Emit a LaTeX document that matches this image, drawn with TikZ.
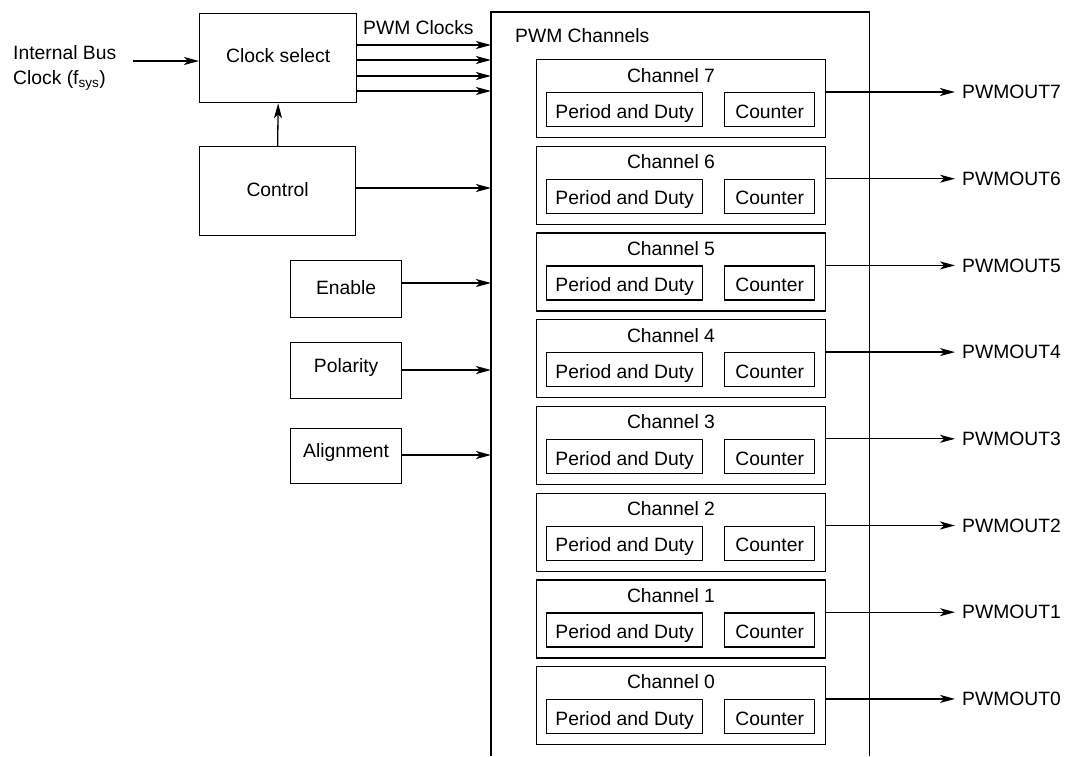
\documentclass[tikz,border=0pt]{standalone}
\usepackage{fontspec}
\setmainfont{Liberation Sans}
\usetikzlibrary{arrows.meta,calc}
\begin{document}
\begin{tikzpicture}[x=1pt,y=-1pt,
  every node/.style={font=\fontsize{19.3}{25}\selectfont, inner sep=0pt},
  box/.style={draw, line width=1.3pt, anchor=north west, text height=13.8pt},
  ln/.style={line width=1.3pt},
  arr/.style={line width=1.3pt, -{Stealth[length=15pt,width=8pt,inset=4pt]}}]
\useasboundingbox (0,0) rectangle (1070,756);

% left side blocks
\node[box, text depth=5pt, minimum width=157pt, minimum height=89pt] (clk) at (199,13) {Clock select};
\node[box, text depth=3pt, minimum width=156pt, minimum height=89pt] (ctrl) at (199,146) {Control};
\node[box, text depth=3pt, minimum width=111pt, minimum height=57pt] (en) at (290,260) {Enable};
\node[box, text depth=10pt, minimum width=111pt, minimum height=56pt] (pol) at (290,342) {Polarity};
\node[box, text depth=11pt, minimum width=111pt, minimum height=55pt] (ali) at (290,428) {Alignment};

\node[anchor=north west, align=left] (ibc) at (13,45) {Internal Bus\\Clock (f\textsubscript{sys})};
\coordinate (ibcend) at (133,61);

% PWM channels container (open at the bottom)
\node[anchor=north west, minimum width=378pt, minimum height=744pt] (pwm) at (491,12) {};
\draw[ln] (pwm.south west) -- (pwm.north west) -- (pwm.north east) -- (pwm.south east);
\node[anchor=base west] (pwmlbl) at (515,42) {PWM Channels};
\node[anchor=base west] (clklbl) at (363,34) {PWM Clocks};

% connectors on the left
\draw[arr] (ibcend) -- (ibcend -| clk.west);
\draw[arr] (ctrl.north) -- (clk.south);
\foreach \dy in {32,47,63,78}{
  \draw[arr] ($(clk.north east)+(0,\dy)$) -- ($(clk.north east -| pwm.west)+(0,\dy)$);
}
\draw[arr] ($(ctrl.north east)+(0,42)$) -- ($(ctrl.north east -| pwm.west)+(0,42)$);
\draw[arr] ($(en.north east)+(0,23)$) -- ($(en.north east -| pwm.west)+(0,23)$);
\draw[arr] ($(pol.north east)+(0,28)$) -- ($(pol.north east -| pwm.west)+(0,28)$);
\draw[arr] ($(ali.north east)+(0,27)$) -- ($(ali.north east -| pwm.west)+(0,27)$);

% channels
\foreach \i/\n in {0/7,1/6,2/5,3/4,4/3,5/2,6/1,7/0}{
  \pgfmathsetmacro\t{59+\i*86.7}
  \node[box, minimum width=289pt, minimum height=78pt] (ch\n) at (536,\t) {};
  \node[anchor=base] (chl\n) at (671,\t+23) {Channel \n};
  \node[box, text height=17.2pt, text depth=0pt, minimum width=156pt, minimum height=34pt] (pd\n) at (546,\t+33) {Period and Duty};
  \node[box, text height=17.2pt, text depth=0pt, minimum width=90pt, minimum height=34pt] (cnt\n) at (724,\t+33) {Counter};
  \node[anchor=west] (out\n) at (962,\t+33) {PWMOUT\n};
  \draw[arr] (ch\n.east |- out\n.west) -- ($(out\n.west)+(-7,0)$);
}
\end{tikzpicture}
\end{document}
